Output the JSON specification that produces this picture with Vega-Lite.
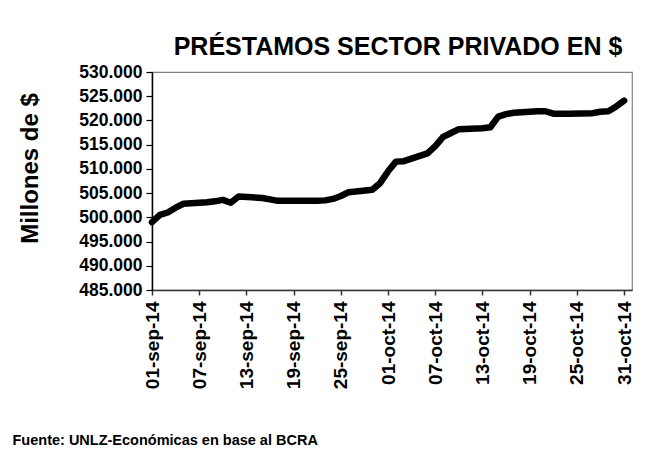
{
  "$schema": "https://vega.github.io/schema/vega-lite/v6.json",
  "width": 480,
  "height": 218,
  "autosize": {"type": "none"},
  "padding": {"left": 152, "top": 72, "right": 19, "bottom": 161},
  "background": "white",
  "config": {
    "view": {"stroke": "#808080", "strokeWidth": 1.2},
    "font": "Liberation Sans"
  },
  "title": {
    "text": "PRÉSTAMOS SECTOR PRIVADO EN $",
    "anchor": "middle",
    "font": "Liberation Sans",
    "fontSize": 25,
    "fontWeight": "bold",
    "color": "black",
    "baseline": "alphabetic",
    "offset": -17,
    "dx": 6
  },
  "data": {
    "values": [
      {"fecha": "2014/09/01", "valor": 499000},
      {"fecha": "2014/09/02", "valor": 500500},
      {"fecha": "2014/09/03", "valor": 501000},
      {"fecha": "2014/09/04", "valor": 502000},
      {"fecha": "2014/09/05", "valor": 502800},
      {"fecha": "2014/09/08", "valor": 503100},
      {"fecha": "2014/09/09", "valor": 503300},
      {"fecha": "2014/09/10", "valor": 503600},
      {"fecha": "2014/09/11", "valor": 503000},
      {"fecha": "2014/09/12", "valor": 504300},
      {"fecha": "2014/09/15", "valor": 504000},
      {"fecha": "2014/09/16", "valor": 503700},
      {"fecha": "2014/09/17", "valor": 503400},
      {"fecha": "2014/09/18", "valor": 503400},
      {"fecha": "2014/09/19", "valor": 503400},
      {"fecha": "2014/09/22", "valor": 503400},
      {"fecha": "2014/09/23", "valor": 503500},
      {"fecha": "2014/09/24", "valor": 503800},
      {"fecha": "2014/09/25", "valor": 504400},
      {"fecha": "2014/09/26", "valor": 505200},
      {"fecha": "2014/09/29", "valor": 505700},
      {"fecha": "2014/09/30", "valor": 507100},
      {"fecha": "2014/10/01", "valor": 509500},
      {"fecha": "2014/10/02", "valor": 511500},
      {"fecha": "2014/10/03", "valor": 511600},
      {"fecha": "2014/10/06", "valor": 513200},
      {"fecha": "2014/10/07", "valor": 514700},
      {"fecha": "2014/10/08", "valor": 516600},
      {"fecha": "2014/10/09", "valor": 517400},
      {"fecha": "2014/10/10", "valor": 518200},
      {"fecha": "2014/10/13", "valor": 518400},
      {"fecha": "2014/10/14", "valor": 518600},
      {"fecha": "2014/10/15", "valor": 520800},
      {"fecha": "2014/10/16", "valor": 521300},
      {"fecha": "2014/10/17", "valor": 521600},
      {"fecha": "2014/10/20", "valor": 521900},
      {"fecha": "2014/10/21", "valor": 521900},
      {"fecha": "2014/10/22", "valor": 521400},
      {"fecha": "2014/10/23", "valor": 521400},
      {"fecha": "2014/10/24", "valor": 521400},
      {"fecha": "2014/10/27", "valor": 521500},
      {"fecha": "2014/10/28", "valor": 521800},
      {"fecha": "2014/10/29", "valor": 521900},
      {"fecha": "2014/10/30", "valor": 522900},
      {"fecha": "2014/10/31", "valor": 524100}
    ]
  },
  "mark": {"type": "line", "color": "black", "strokeWidth": 6.5, "strokeCap": "round", "strokeJoin": "round"},
  "encoding": {
    "x": {
      "field": "fecha",
      "type": "temporal",
      "scale": {"domain": [{"year": 2014, "month": 9, "date": 1}, {"year": 2014, "month": 11, "date": 1}], "nice": false},
      "axis": {
        "values": [
          {"year": 2014, "month": 9, "date": 1},
          {"year": 2014, "month": 9, "date": 7},
          {"year": 2014, "month": 9, "date": 13},
          {"year": 2014, "month": 9, "date": 19},
          {"year": 2014, "month": 9, "date": 25},
          {"year": 2014, "month": 10, "date": 1},
          {"year": 2014, "month": 10, "date": 7},
          {"year": 2014, "month": 10, "date": 13},
          {"year": 2014, "month": 10, "date": 19},
          {"year": 2014, "month": 10, "date": 25},
          {"year": 2014, "month": 10, "date": 31}
        ],
        "labelExpr": "lower(timeFormat(datum.value, '%d-%b-%y'))",
        "labelAngle": -90,
        "labelAlign": "right",
        "labelBaseline": "middle",
        "labelFont": "Liberation Sans",
        "labelFontSize": 19,
        "labelFontWeight": "bold",
        "labelColor": "black",
        "labelPadding": 6,
        "labelOverlap": false,
        "labelFlush": false,
        "grid": false,
        "domainColor": "#333333",
        "domainWidth": 1.5,
        "tickColor": "#333333",
        "tickSize": 5,
        "tickWidth": 1.5,
        "title": "Fuente: UNLZ-Económicas en base al BCRA",
        "titleFont": "Liberation Sans",
        "titleFontSize": 14.5,
        "titleFontWeight": "bold",
        "titleColor": "black",
        "titleX": -140,
        "titleY": 154,
        "titleAlign": "left",
        "titleBaseline": "alphabetic",
        "titleAnchor": null
      }
    },
    "y": {
      "field": "valor",
      "type": "quantitative",
      "scale": {"domain": [485000, 530000], "nice": false, "zero": false},
      "axis": {
        "values": [485000, 490000, 495000, 500000, 505000, 510000, 515000, 520000, 525000, 530000],
        "labelExpr": "replace(format(datum.value, ',d'), ',', '.')",
        "labelFont": "Liberation Sans",
        "labelFontSize": 17.5,
        "labelFontWeight": "bold",
        "labelColor": "black",
        "labelPadding": 4,
        "grid": false,
        "domainColor": "black",
        "domainWidth": 1.5,
        "tickColor": "black",
        "tickSize": 6,
        "tickWidth": 1.2,
        "title": "Millones de $",
        "titleFont": "Liberation Sans",
        "titleFontSize": 24,
        "titleFontWeight": "bold",
        "titleColor": "black",
        "titleX": -115,
        "titleY": 96,
        "titleAngle": -90,
        "titleAlign": "center",
        "titleBaseline": "alphabetic"
      }
    }
  }
}
